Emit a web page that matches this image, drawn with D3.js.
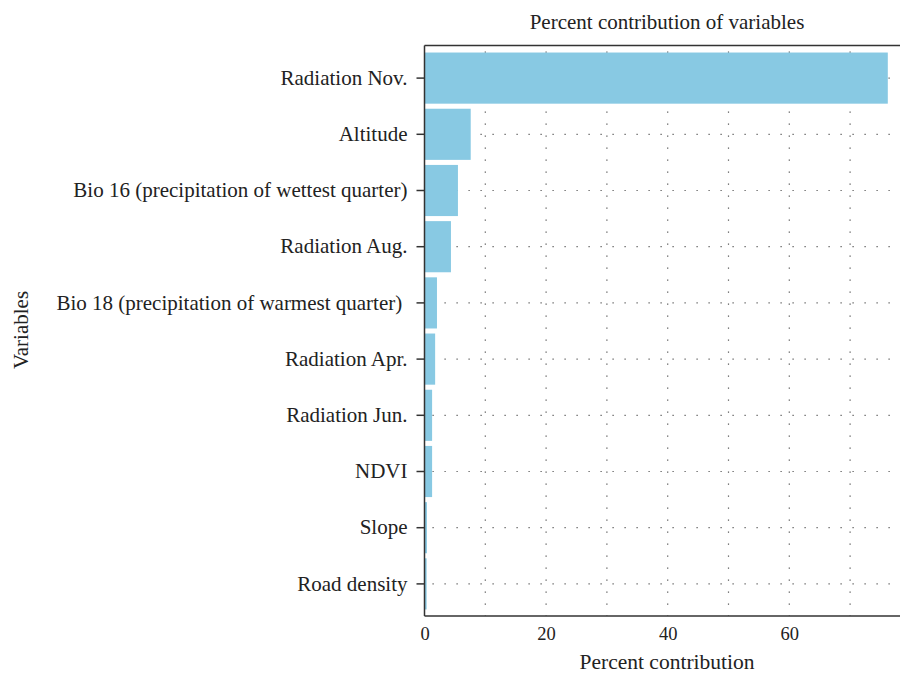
<!DOCTYPE html>
<html>
<head>
<meta charset="utf-8">
<title>Percent contribution of variables</title>
<style>
  body { margin: 0; background: #fff; }
  text { font-family: "Liberation Serif", "DejaVu Serif", serif; fill: #222; }
</style>
</head>
<body>
<svg width="900" height="673"></svg>
<script src="https://cdn.jsdelivr.net/npm/d3@7/dist/d3.min.js"></script>
<script>
// data
var variables = ["Radiation Nov.", "Altitude", "Bio 16 (precipitation of wettest quarter)",
  "Radiation Aug.", "Bio 18 (precipitation of warmest quarter)\u00a0", "Radiation Apr.",
  "Radiation Jun.", "NDVI", "Slope", "Road density"];
var contribution = [76.2, 7.6, 5.5, 4.35, 2.05, 1.75, 1.25, 1.25, 0.4, 0.35];
var xTicks = [0, 20, 40, 60];
var gridTicks = [10, 20, 30, 40, 50, 60, 70];

var svg = d3.select("svg");
var plotL = 424.5, plotT = 45.5, plotB = 616;

var x = d3.scaleLinear().domain([0, 79]).range([plotL, plotL + 79 * 6.08]);
var y = d3.scaleBand().domain(variables).range([50, 612])
  .paddingInner(0.09).paddingOuter(0.045);

// dotted grid, behind the bars
svg.selectAll(".vgrid").data(gridTicks).enter().append("line")
  .attr("x1", function(d){ return x(d); }).attr("x2", function(d){ return x(d); })
  .attr("y1", plotT + 6).attr("y2", plotB)
  .attr("stroke", "#555").attr("stroke-width", 1.2).attr("stroke-dasharray", "1.2,10.8");

svg.selectAll(".hgrid").data(variables).enter().append("line")
  .attr("x1", plotL + 8).attr("x2", 900)
  .attr("y1", function(d){ return y(d) + y.bandwidth()/2; })
  .attr("y2", function(d){ return y(d) + y.bandwidth()/2; })
  .attr("stroke", "#555").attr("stroke-width", 1.2).attr("stroke-dasharray", "1.2,10.8");

// bars
svg.selectAll(".bar").data(variables).enter().append("rect")
  .attr("x", x(0))
  .attr("y", function(d){ return y(d); })
  .attr("height", y.bandwidth())
  .attr("width", function(d, i){ return x(contribution[i]) - x(0); })
  .attr("fill", "#88c9e3");

// frame
svg.append("line").attr("x1", plotL).attr("x2", 900).attr("y1", plotT).attr("y2", plotT)
  .attr("stroke", "#333").attr("stroke-width", 1.5);
svg.append("line").attr("x1", plotL).attr("x2", 900).attr("y1", plotB).attr("y2", plotB)
  .attr("stroke", "#333").attr("stroke-width", 1.5);
svg.append("line").attr("x1", plotL).attr("x2", plotL).attr("y1", plotT).attr("y2", plotB)
  .attr("stroke", "#333").attr("stroke-width", 1.5);

// y axis ticks + labels
var yAxis = svg.append("g")
  .attr("transform", "translate(" + plotL + ",0)")
  .call(d3.axisLeft(y).tickSize(8).tickPadding(9));
yAxis.select(".domain").remove();
yAxis.selectAll(".tick line").attr("stroke", "#333").attr("stroke-width", 1.5);
yAxis.selectAll(".tick text").attr("font-size", "21px")
  .attr("font-family", "Liberation Serif, serif").attr("fill", "#222");

// x axis labels
var xAxis = svg.append("g")
  .attr("transform", "translate(0," + plotB + ")")
  .call(d3.axisBottom(x).tickValues(xTicks).tickSize(0).tickPadding(9).tickFormat(d3.format("d")));
xAxis.select(".domain").remove();
xAxis.selectAll(".tick text").attr("font-size", "18.5px").attr("y", 24).attr("dy", 0)
  .attr("font-family", "Liberation Serif, serif").attr("fill", "#222");

// titles
svg.append("text").text("Percent contribution of variables")
  .attr("x", 667).attr("y", 29).attr("text-anchor", "middle").attr("font-size", "21px");
svg.append("text").text("Percent contribution")
  .attr("x", 667).attr("y", 669).attr("text-anchor", "middle").attr("font-size", "21.5px");
svg.append("text").text("Variables")
  .attr("transform", "translate(28,330) rotate(-90)")
  .attr("text-anchor", "middle").attr("font-size", "21px");
</script>
</body>
</html>
